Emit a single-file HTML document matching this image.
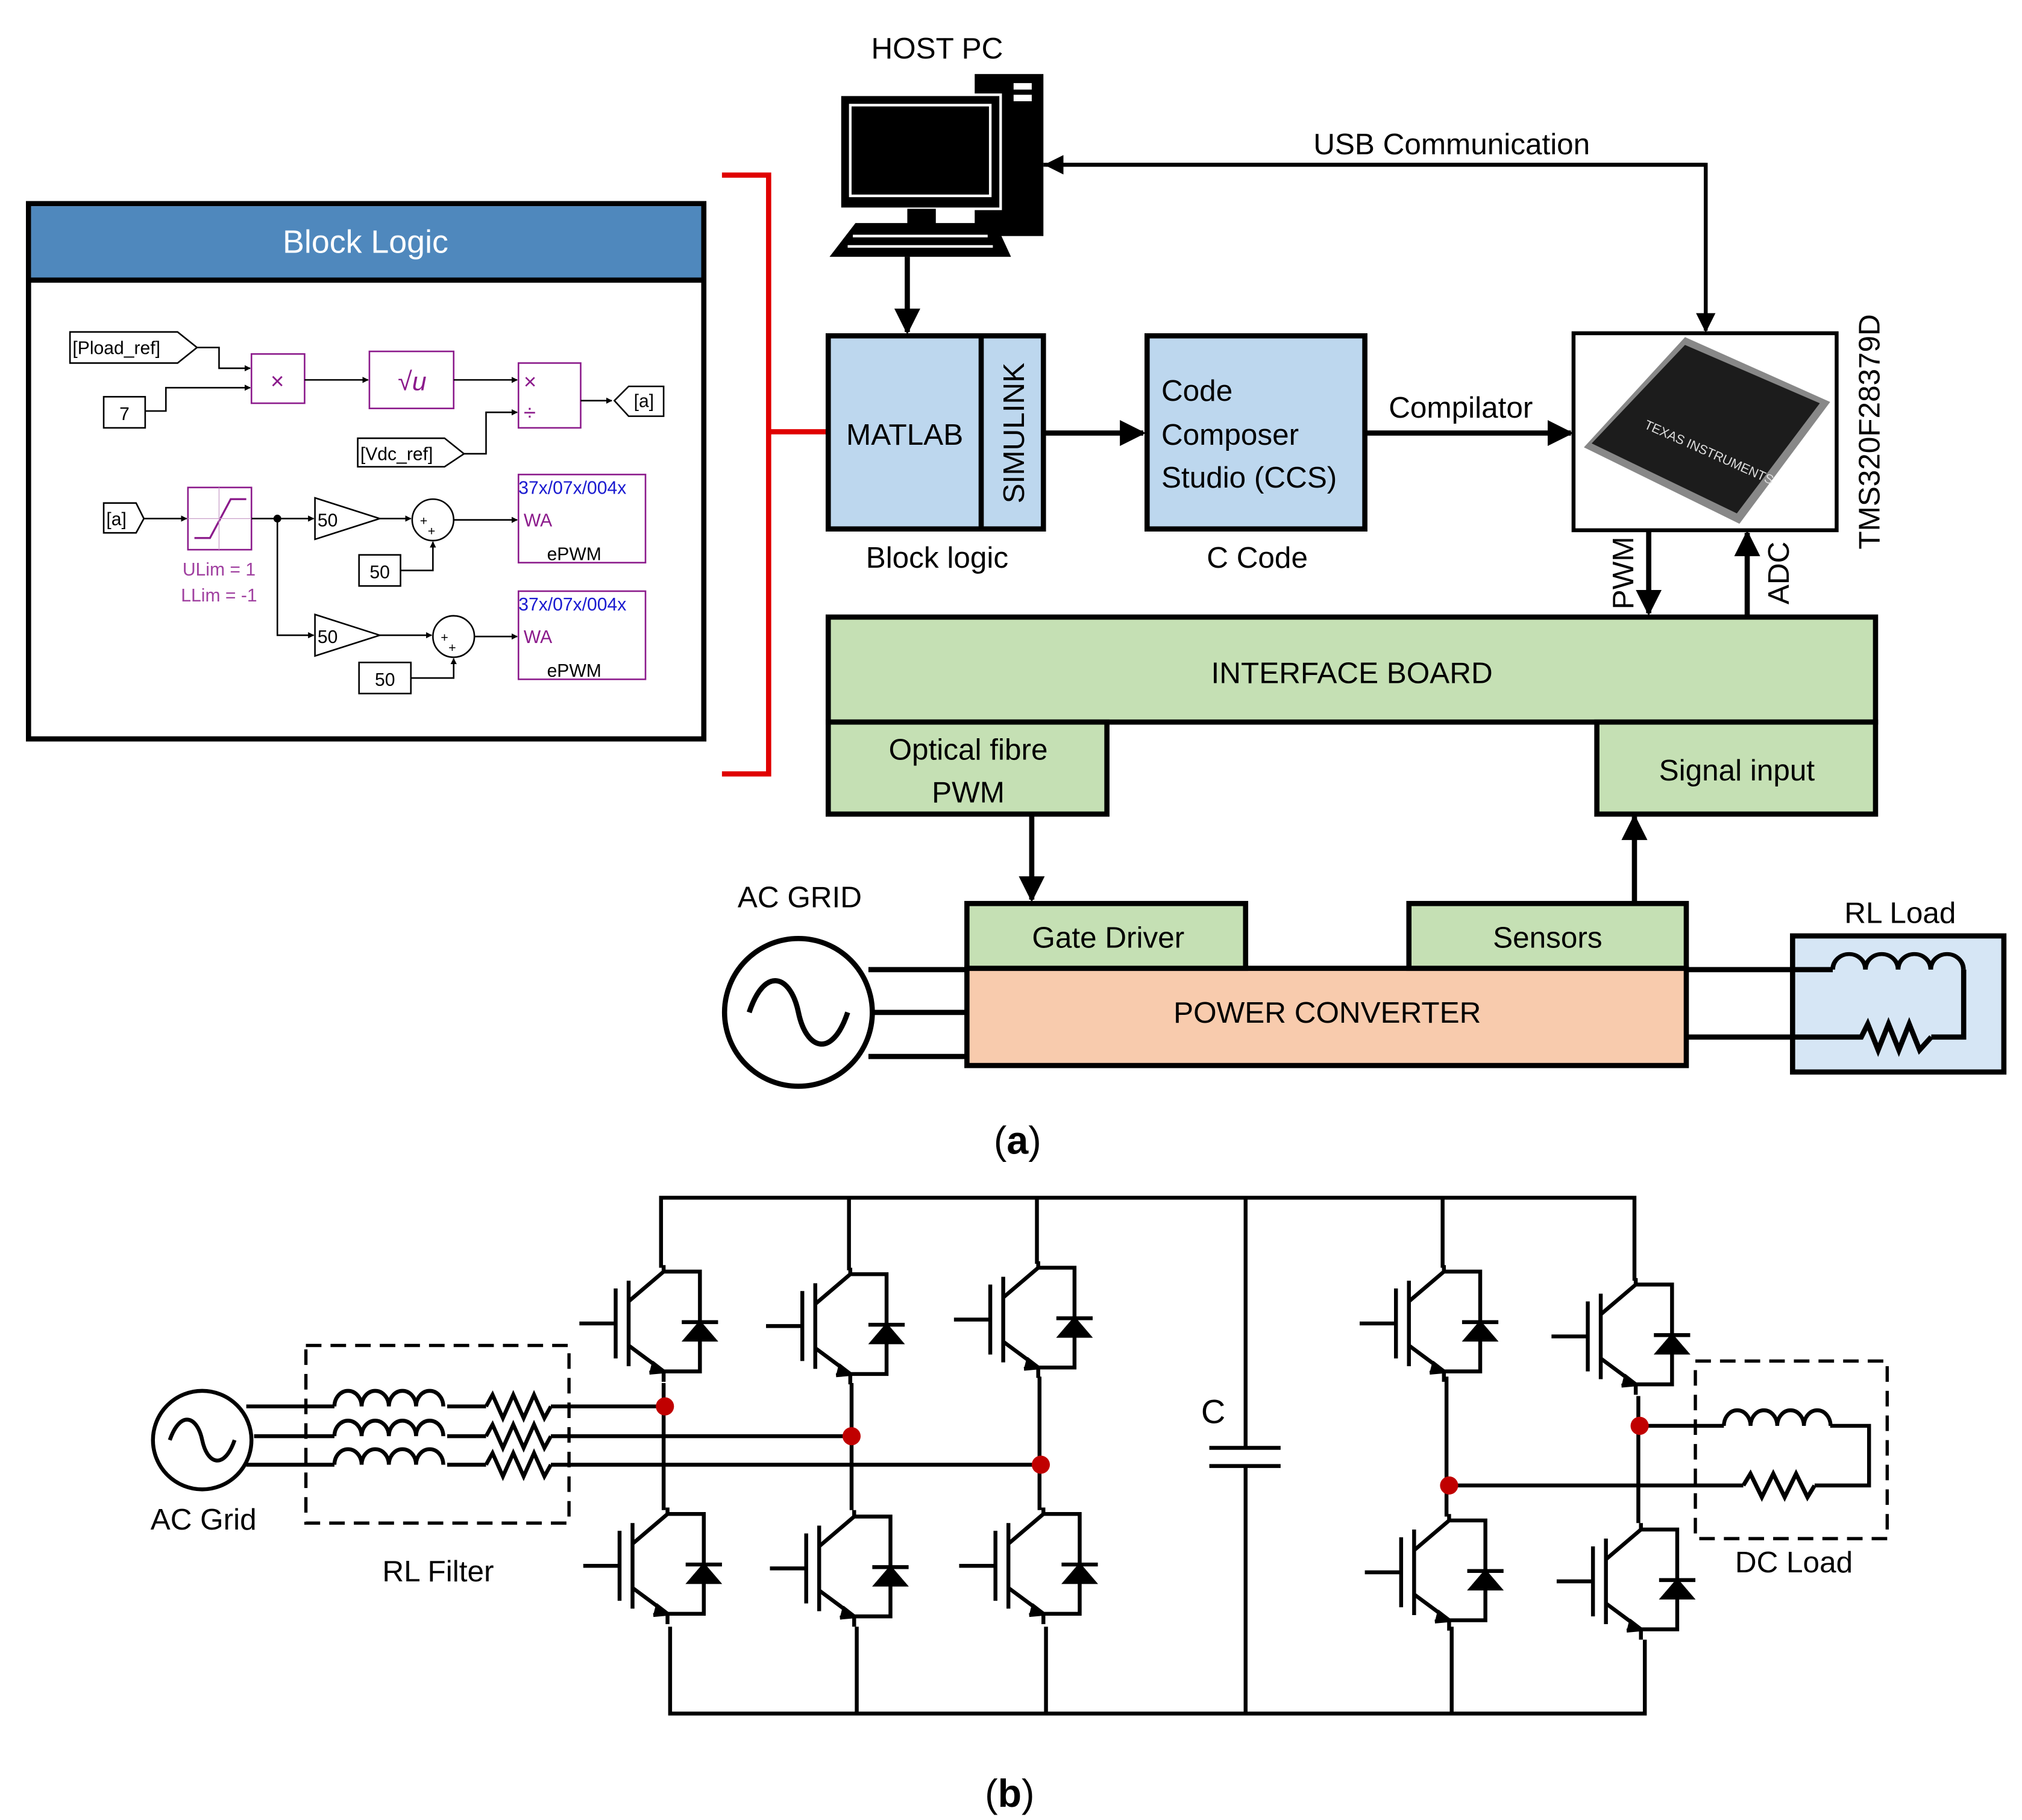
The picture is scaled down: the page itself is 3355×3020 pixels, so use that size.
<!DOCTYPE html>
<html><head><meta charset="utf-8"><style>
html,body{margin:0;padding:0;background:#fff}
svg{display:block}
text{font-family:"Liberation Sans","DejaVu Sans",sans-serif}
</style></head><body>
<svg width="3355" height="3020" viewBox="0 0 1560 1404" xmlns="http://www.w3.org/2000/svg">
<defs>
<marker id="ar" viewBox="0 0 10 10" refX="9" refY="5" markerWidth="5" markerHeight="5" orient="auto"><path d="M0,0 L10,5 L0,10 Z" fill="#000"/></marker>
<marker id="as" viewBox="0 0 10 10" refX="9" refY="5" markerWidth="4" markerHeight="4" orient="auto"><path d="M0,0 L10,5 L0,10 Z" fill="#000"/></marker>
<g id="sw" fill="none" stroke="#000" stroke-width="3">
<path d="M0,0 V5 L-27,28 M-27,12 V78 M-37,18 V72 M-65,45 H-37 M-27,62 L0,82 V90"/>
<path d="M-9,75 L0,82 L-11,83" fill="#000"/>
<path d="M0,5 H28 V82 H0"/>
<path d="M16,58 L40,58 L28,44 Z" fill="#000" stroke-width="2"/>
<path d="M14,44 H42"/>
</g>
<g id="ind" fill="none" stroke="#000" stroke-width="3"><path d="M0,0 a10.5,12 0 0 1 21,0 a10.5,12 0 0 1 21,0 a10.5,12 0 0 1 21,0 a10.5,12 0 0 1 21,0"/></g>
<g id="res" fill="none" stroke="#000" stroke-width="3"><path d="M0,0 L5,-9 L13,9 L21,-9 L29,9 L37,-9 L45,9 L50,0"/></g>
</defs>

<!-- Block Logic panel -->
<rect x="22" y="157" width="521" height="413" fill="#fff" stroke="#000" stroke-width="4"/>
<rect x="24" y="159" width="517" height="57" fill="#4f88bd"/>
<line x1="22" y1="216" x2="543" y2="216" stroke="#000" stroke-width="4"/>
<text x="282" y="195" font-size="25" fill="#fff" text-anchor="middle">Block Logic</text>
<g font-size="14" stroke-width="1.2">
<path d="M54,256 H137 L152,268 L137,280 H54 Z" fill="#fff" stroke="#000"/><text x="56" y="273">[Pload_ref]</text>
<rect x="80" y="306" width="32" height="24" fill="#fff" stroke="#000"/><text x="96" y="324" text-anchor="middle">7</text>
<path d="M152,268 H169 V284 H193" fill="none" stroke="#000" marker-end="url(#as)"/>
<path d="M112,317 H128 V299 H193" fill="none" stroke="#000" marker-end="url(#as)"/>
<rect x="194" y="273" width="41" height="38" fill="#fff" stroke="#8b1a8b"/><text x="214" y="300" text-anchor="middle" fill="#8b1a8b" font-size="18">×</text>
<path d="M235,293 H284" fill="none" stroke="#000" marker-end="url(#as)"/>
<rect x="285" y="271" width="65" height="44" fill="#fff" stroke="#8b1a8b"/><text x="318" y="301" text-anchor="middle" fill="#8b1a8b" font-size="20" font-style="italic">√u</text>
<path d="M350,293 H399" fill="none" stroke="#000" marker-end="url(#as)"/>
<path d="M276,338 H343 L358,350 L343,360 H276 Z" fill="#fff" stroke="#000"/><text x="278" y="355">[Vdc_ref]</text>
<path d="M358,350 H375 V318 H399" fill="none" stroke="#000" marker-end="url(#as)"/>
<rect x="400" y="280" width="48" height="50" fill="#fff" stroke="#8b1a8b"/><text x="404" y="300" fill="#8b1a8b" font-size="17">×</text><text x="404" y="324" fill="#8b1a8b" font-size="17">÷</text>
<path d="M448,309 H472" fill="none" stroke="#000" marker-end="url(#as)"/>
<path d="M474,309 L485,298 H512 V321 H485 Z" fill="#fff" stroke="#000"/><text x="489" y="314">[a]</text>
<path d="M80,388 H105 L111,400 L105,411 H80 Z" fill="#fff" stroke="#000"/><text x="82" y="405">[a]</text>
<path d="M111,400 H144" fill="none" stroke="#000" marker-end="url(#as)"/>
<rect x="145" y="376" width="49" height="48" fill="#fff" stroke="#8b1a8b"/>
<path d="M150,415 H162 L178,385 H190" fill="none" stroke="#8b1a8b" stroke-width="1.5"/>
<path d="M145,400 H194 M169,376 V424" stroke="#c9a0c9" stroke-width="0.6"/>
<text x="169" y="444" text-anchor="middle" fill="#a040a0">ULim = 1</text><text x="169" y="464" text-anchor="middle" fill="#a040a0">LLim = -1</text>
<path d="M194,400 H242" fill="none" stroke="#000" marker-end="url(#as)"/>
<circle cx="214" cy="400" r="3" fill="#000"/>
<path d="M214,400 V490 H242" fill="none" stroke="#000" marker-end="url(#as)"/>
<path d="M243,384 L293,400 L243,416 Z" fill="#fff" stroke="#000"/><text x="245" y="406">50</text>
<path d="M243,474 L293,490 L243,506 Z" fill="#fff" stroke="#000"/><text x="245" y="496">50</text>
<path d="M293,400 H317" fill="none" stroke="#000" marker-end="url(#as)"/>
<path d="M293,490 H333" fill="none" stroke="#000" marker-end="url(#as)"/>
<circle cx="334" cy="401" r="16" fill="#fff" stroke="#000"/><text x="324" y="405" font-size="10">+</text><text x="330" y="413" font-size="10">+</text>
<circle cx="350" cy="491" r="16" fill="#fff" stroke="#000"/><text x="340" y="495" font-size="10">+</text><text x="346" y="503" font-size="10">+</text>
<rect x="277" y="428" width="32" height="24" fill="#fff" stroke="#000"/><text x="293" y="446" text-anchor="middle">50</text>
<rect x="277" y="511" width="40" height="24" fill="#fff" stroke="#000"/><text x="297" y="529" text-anchor="middle">50</text>
<path d="M309,440 H334 V418" fill="none" stroke="#000" marker-end="url(#as)"/>
<path d="M317,523 H350 V508" fill="none" stroke="#000" marker-end="url(#as)"/>
<path d="M350,401 H399" fill="none" stroke="#000" marker-end="url(#as)"/>
<path d="M366,491 H399" fill="none" stroke="#000" marker-end="url(#as)"/>
<rect x="400" y="366" width="98" height="68" fill="#fff" stroke="#8b1a8b"/>
<text x="400" y="381" fill="#1a1ad0">37x/07x/004x</text><text x="404" y="406" fill="#8b1a8b">WA</text><text x="422" y="432">ePWM</text>
<rect x="400" y="456" width="98" height="68" fill="#fff" stroke="#8b1a8b"/>
<text x="400" y="471" fill="#1a1ad0">37x/07x/004x</text><text x="404" y="496" fill="#8b1a8b">WA</text><text x="422" y="522">ePWM</text>
</g>

<!-- red bracket -->
<path d="M557,135 H593 V597 H557 M593,333 H640" fill="none" stroke="#e00000" stroke-width="4"/>

<!-- Host PC -->
<text x="723" y="45" font-size="23" text-anchor="middle">HOST PC</text>
<rect x="752" y="57" width="53" height="125" fill="#000"/>
<rect x="782" y="64" width="14" height="5" fill="#fff"/><rect x="782" y="73" width="14" height="5" fill="#fff"/>
<rect x="648" y="73" width="124" height="88" fill="#000" stroke="#fff" stroke-width="2"/>
<rect x="656" y="81" width="108" height="70" fill="#000" stroke="#fff" stroke-width="2"/>
<rect x="700" y="161" width="22" height="12" fill="#000"/>
<path d="M660,172 H768 L780,198 H640 Z" fill="#000"/>
<g stroke="#fff" stroke-width="2"><path d="M658,182 H762 M654,190 H766"/></g>
<path d="M700,198 V256" stroke="#000" stroke-width="4" marker-end="url(#ar)"/>

<!-- MATLAB -->
<rect x="639" y="259" width="166" height="149" fill="#bdd7ee" stroke="#000" stroke-width="4"/>
<line x1="757" y1="259" x2="757" y2="408" stroke="#000" stroke-width="4"/>
<text x="698" y="343" font-size="23" text-anchor="middle">MATLAB</text>
<text transform="translate(790,334) rotate(-90)" font-size="23" text-anchor="middle">SIMULINK</text>
<path d="M805,334 H882" stroke="#000" stroke-width="4" marker-end="url(#ar)"/>
<rect x="885" y="259" width="168" height="149" fill="#bdd7ee" stroke="#000" stroke-width="4"/>
<text x="896" y="309" font-size="23">Code</text><text x="896" y="343" font-size="23">Composer</text><text x="896" y="376" font-size="23">Studio (CCS)</text>
<text x="723" y="438" font-size="23" text-anchor="middle">Block logic</text>
<text x="970" y="438" font-size="23" text-anchor="middle">C Code</text>
<text x="1127" y="322" font-size="23" text-anchor="middle">Compilator</text>
<path d="M1053,334 H1212" stroke="#000" stroke-width="4" marker-end="url(#ar)"/>

<!-- chip -->
<rect x="1214" y="257" width="203" height="152" fill="#fff" stroke="#000" stroke-width="3"/>
<path d="M1222,345 L1300,260 L1412,310 L1342,404 Z" fill="#888"/>
<path d="M1228,342 L1300,266 L1404,311 L1340,396 Z" fill="#1c1c1c"/>
<text transform="translate(1268,330) rotate(24)" font-size="10" fill="#ddd" font-family="Liberation Serif">TEXAS INSTRUMENTS</text>

<text transform="translate(1450,333) rotate(-90)" font-size="23" text-anchor="middle">TMS320F28379D</text>
<path d="M805,127 H1316 V255" fill="none" stroke="#000" stroke-width="3" marker-end="url(#ar)"/>
<path d="M1316,127 H807" fill="none" stroke="#000" stroke-width="3" marker-end="url(#ar)"/>
<text x="1120" y="119" font-size="23" text-anchor="middle">USB Communication</text>
<path d="M1272,409 V473" stroke="#000" stroke-width="4" marker-end="url(#ar)"/>
<path d="M1348,475 V411" stroke="#000" stroke-width="4" marker-end="url(#ar)"/>
<text transform="translate(1260,442) rotate(-90)" font-size="23" text-anchor="middle">PWM</text>
<text transform="translate(1380,442) rotate(-90)" font-size="23" text-anchor="middle">ADC</text>

<!-- interface board -->
<rect x="639" y="476" width="808" height="81" fill="#c5e0b4" stroke="#000" stroke-width="4"/>
<text x="1043" y="527" font-size="23" text-anchor="middle">INTERFACE BOARD</text>
<rect x="639" y="557" width="215" height="71" fill="#c5e0b4" stroke="#000" stroke-width="4"/>
<text x="747" y="586" font-size="23" text-anchor="middle">Optical fibre</text><text x="747" y="619" font-size="23" text-anchor="middle">PWM</text>
<rect x="1232" y="557" width="215" height="71" fill="#c5e0b4" stroke="#000" stroke-width="4"/>
<text x="1340" y="602" font-size="23" text-anchor="middle">Signal input</text>
<path d="M796,628 V694" stroke="#000" stroke-width="4" marker-end="url(#ar)"/>
<path d="M1261,696 V630" stroke="#000" stroke-width="4" marker-end="url(#ar)"/>

<!-- AC grid & converter -->
<text x="617" y="700" font-size="23" text-anchor="middle">AC GRID</text>
<path d="M670,748 H746 M674,781 H746 M670,815 H746" stroke="#000" stroke-width="4"/>
<circle cx="616" cy="781" r="57" fill="#fff" stroke="#000" stroke-width="4"/>
<path d="M578,781 C590,745 610,752 616,781 C622,810 642,817 654,781" fill="none" stroke="#000" stroke-width="4"/>
<rect x="746" y="747" width="555" height="75" fill="#f8cbad" stroke="#000" stroke-width="4"/>
<text x="1024" y="789" font-size="23" text-anchor="middle">POWER CONVERTER</text>
<rect x="746" y="697" width="215" height="50" fill="#c5e0b4" stroke="#000" stroke-width="4"/>
<text x="855" y="731" font-size="23" text-anchor="middle">Gate Driver</text>
<rect x="1087" y="697" width="214" height="50" fill="#c5e0b4" stroke="#000" stroke-width="4"/>
<text x="1194" y="731" font-size="23" text-anchor="middle">Sensors</text>
<path d="M1301,748 H1414 M1301,800 H1436" stroke="#000" stroke-width="4"/>
<rect x="1383" y="722" width="163" height="105" fill="#d6e6f5" stroke="#000" stroke-width="4"/>
<text x="1466" y="712" font-size="23" text-anchor="middle">RL Load</text>
<path d="M1383,748 H1414" stroke="#000" stroke-width="4"/>
<use href="#ind" transform="translate(1414,748) scale(1.2,1)"/>
<path d="M1414,748 V748" />
<path d="M1515,748 V800 H1490" fill="none" stroke="#000" stroke-width="4"/>
<path d="M1383,800 H1436 L1441,790 L1449,810 L1457,790 L1465,810 L1473,790 L1481,810 L1490,800" fill="none" stroke="#000" stroke-width="4"/>
<text x="785" y="890" font-size="30" text-anchor="middle" font-family="Liberation Serif"><tspan>(</tspan><tspan font-weight="bold">a</tspan><tspan>)</tspan></text>

<!-- (b) circuit -->
<g stroke="#000" stroke-width="3" fill="none">
<path d="M510,978 V924 H1261 V988"/>
<path d="M517,1255 V1322 H1269 V1265"/>
<path d="M655,924 V980 M800,924 V975 M1113,924 V978"/>
<path d="M661,1322 V1255 M807,1322 V1255 M1120,1322 V1255"/>
<path d="M961,924 V1117 M961,1131 V1322 M933,1117 H988 M933,1131 H988"/>
<path d="M512,1067 V1165 M657,1067 V1165 M802,1062 V1165 M1116,1062 V1170 M1264,1077 V1175"/>
<path d="M190,1085 H258 M196,1108 H258 M190,1130 H258"/>
<path d="M345,1085 H375 M345,1108 H375 M345,1130 H375"/>
<path d="M425,1085 H513 M425,1108 H657 M425,1130 H803"/>
<path d="M1265,1100 H1330 M1118,1146 H1345 M1400,1146 H1442 V1100 H1412"/>
</g>
<use href="#ind" transform="translate(258,1085)"/><use href="#ind" transform="translate(258,1108)"/><use href="#ind" transform="translate(258,1130)"/>
<use href="#res" transform="translate(375,1085)"/><use href="#res" transform="translate(375,1108)"/><use href="#res" transform="translate(375,1130)"/>
<use href="#ind" transform="translate(1330,1100) scale(0.98,1)"/>
<use href="#res" transform="translate(1345,1146) scale(1.1,1)"/>
<use href="#sw" transform="translate(512,976)"/>
<use href="#sw" transform="translate(656,978)"/>
<use href="#sw" transform="translate(801,973)"/>
<use href="#sw" transform="translate(1114,976)"/>
<use href="#sw" transform="translate(1262,986)"/>
<use href="#sw" transform="translate(515,1163)"/>
<use href="#sw" transform="translate(659,1165)"/>
<use href="#sw" transform="translate(805,1163)"/>
<use href="#sw" transform="translate(1118,1168)"/>
<use href="#sw" transform="translate(1266,1175)"/>
<g fill="#c00000"><circle cx="513" cy="1085" r="7"/><circle cx="657" cy="1108" r="7"/><circle cx="803" cy="1130" r="7"/><circle cx="1118" cy="1146" r="7"/><circle cx="1265" cy="1100" r="7"/></g>
<circle cx="156" cy="1111" r="38" fill="#fff" stroke="#000" stroke-width="3"/>
<path d="M131,1111 C139,1088 152,1092 156,1111 C160,1130 173,1134 181,1111" fill="none" stroke="#000" stroke-width="3"/>
<text x="157" y="1180" font-size="23" text-anchor="middle">AC Grid</text>
<rect x="236" y="1038" width="203" height="137" fill="none" stroke="#000" stroke-width="2.5" stroke-dasharray="12,7"/>
<text x="338" y="1220" font-size="23" text-anchor="middle">RL Filter</text>
<rect x="1308" y="1050" width="148" height="137" fill="none" stroke="#000" stroke-width="2.5" stroke-dasharray="12,7"/>
<text x="1384" y="1213" font-size="23" text-anchor="middle">DC Load</text>
<text x="936" y="1098" font-size="26" text-anchor="middle">C</text>
<text x="779" y="1394" font-size="30" text-anchor="middle" font-family="Liberation Serif"><tspan>(</tspan><tspan font-weight="bold">b</tspan><tspan>)</tspan></text>
</svg>
</body></html>
